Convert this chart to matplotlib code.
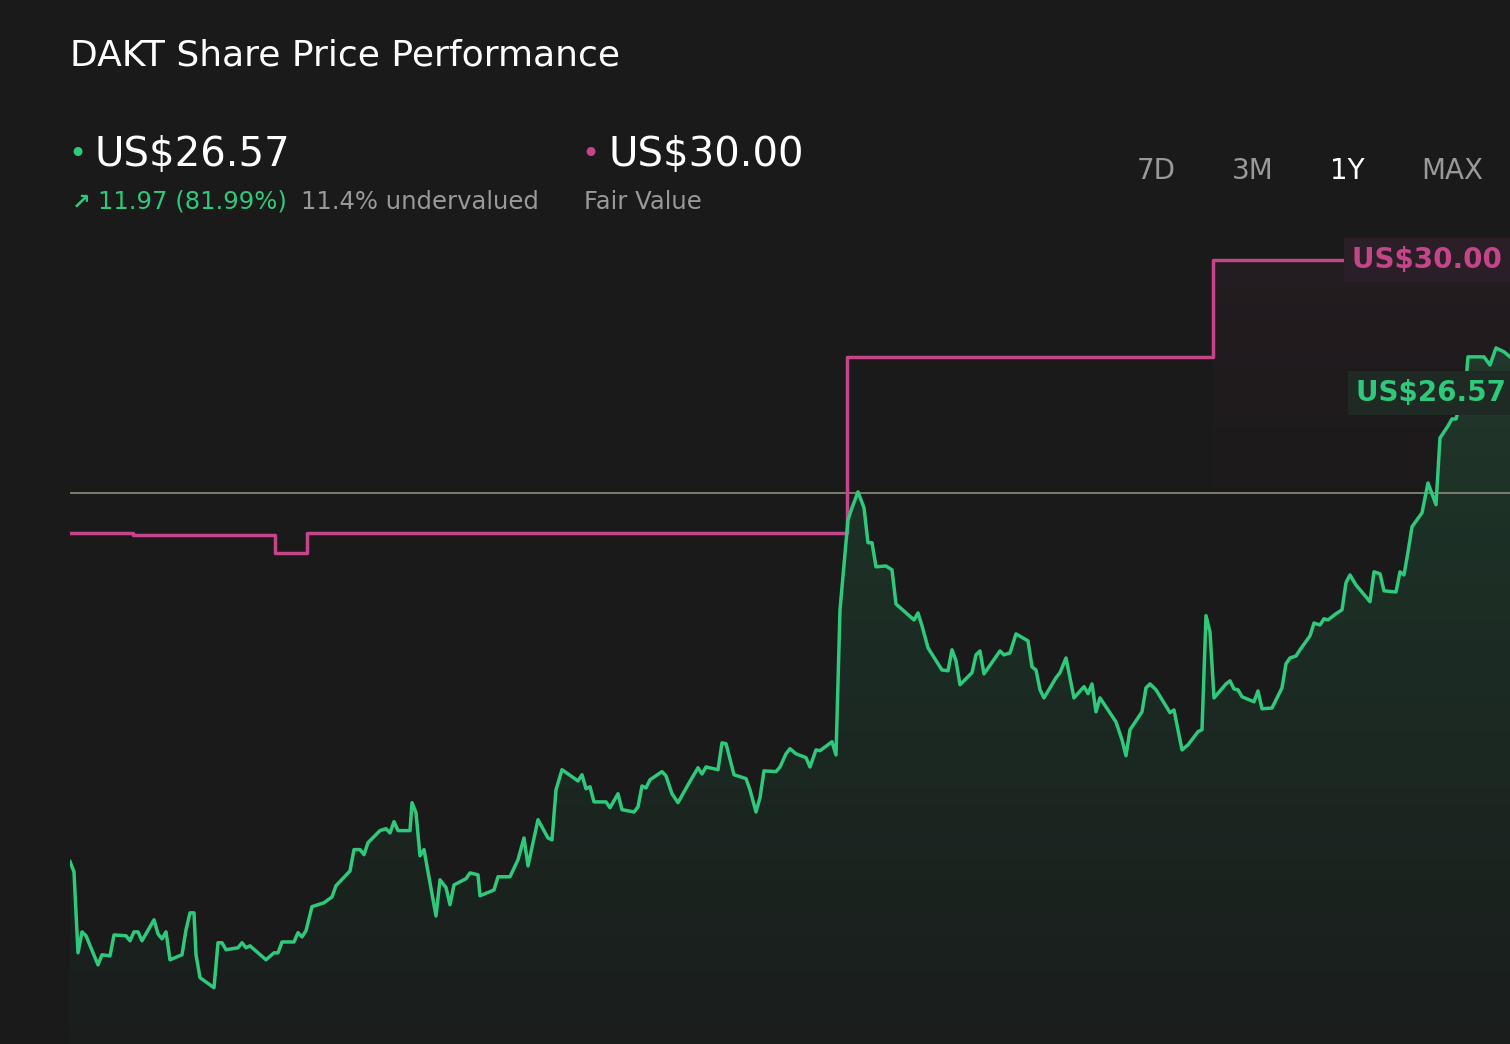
import matplotlib
matplotlib.use("Agg")
import matplotlib.pyplot as plt
import numpy as np

days = [0,1,2,3,4,7,8,10,11,14, 15,16,17,18,21,22,23,24,25,28,
        29,30,31,31.5,32.5,36,37,38,39,42, 43,44,45,49,51,52,53,56,57,58,
        59,60.5,63.5,65.5,66.5,70,71,72.5,73.5,74.5, 77.5,79,80,81,82,85,85.5,86.5,87.5,88.5,
        91.5,92.5,94,95,96,99,100,102,102.5,106, 107,110,112,113.5,114.5,117,119.5,120.5,121.5,123,
        127,128,129,130,131,134,135,137,138,141, 142,143,144,145,148,149,150.5,152,154.5,157,
        158,159,162,163,164,166,169,170,171.5,172.5, 173.5,176.5,177.5,179,180,181.5,184,185,186.5,187.5,
        190.5,191.5,192.5,194.5,195.5,197,198.5,199.5,200.5,201.5, 204,205.5,206.5,211,212,213,214.5,218,219.5,220.5,
        221.5,222.5,225.5,226.5,227.5,228.5,232.5,233.5,235,236.5, 239.5,240.5,241.5,242.5,243.5,246.5,247.5,249,251,253.5,
        254.5,255.5,256.5,257.5,261.5,263,264,265,268,269, 270,271.5,275,276,278,279.5,282,283,284,285,
        286,289,290,291,292,293,296,297,298,300.5, 303,304,305,306.5,307.5,310,311,312.5,313.5,314.5,
        316.5,318,319,320,321.5,325,326,327.5,328.5,331.5, 332.5,333.5,334.5,335.5,338,339.5,341.5,342.5,344.5,345.5,
        346.5,347.5,348.5,349.5,353.5,355,356.5,358.5,360]
price = [14.49,14.23,12.14,12.68,12.58,11.83,12.09,12.06,12.60,12.58, 12.45,12.68,12.68,12.45,12.99,12.63,12.50,12.68,11.96,12.09,
         12.73,13.17,13.17,12.09,11.50,11.24,12.40,12.40,12.22,12.27, 12.40,12.27,12.32,11.96,12.14,12.14,12.42,12.42,12.66,12.55,
         12.71,13.33,13.43,13.58,13.87,14.25,14.80,14.80,14.67,14.98, 15.29,15.34,15.23,15.52,15.29,15.29,16.01,15.75,14.64,14.80,
         13.09,14.02,13.82,13.38,13.89,14.05,14.20,14.15,13.61,13.76, 14.10,14.10,14.54,15.10,14.38,15.57,15.10,15.05,16.34,16.86,
         16.57,16.73,16.37,16.42,16.03,16.03,15.88,16.24,15.83,15.77, 15.90,16.44,16.39,16.60,16.81,16.70,16.24,16.01,16.47,16.91,
         16.75,16.93,16.86,17.55,17.53,16.73,16.63,16.34,15.77,16.14, 16.83,16.81,16.93,17.27,17.40,17.27,17.17,16.93,17.37,17.35,
         17.58,17.24,20.98,23.30,23.61,24.02,23.61,22.71,22.71,22.09, 22.11,22.01,21.13,20.72,20.90,20.57,20.00,19.43,19.41,19.95,
         19.67,19.05,19.36,19.82,19.92,19.33,19.92,19.82,19.87,20.36, 20.18,19.51,19.43,18.92,18.71,19.23,19.36,19.74,18.71,19.00,
         18.82,19.07,18.35,18.71,18.09,17.63,17.22,17.89,18.35,18.97, 19.07,18.92,18.33,18.40,17.37,17.50,17.84,17.89,20.83,20.41,
         18.71,19.07,19.15,18.94,18.92,18.74,18.61,18.89,18.43,18.45, 18.97,19.59,19.74,19.79,19.95,20.31,20.64,20.59,20.75,20.72,
         20.88,20.98,21.68,21.88,21.62,21.19,21.96,21.91,21.47,21.44, 21.96,21.88,22.47,23.12,23.48,24.25,23.69,25.41,25.72,25.90,
         25.90,26.26,26.26,27.50,27.50,27.29,27.73,27.63,27.50]

fv_days = [0, 15.75, 51.25, 59.25, 194.25, 285.75, 318.75]
fv_vals = [22.96, 22.90, 22.45, 22.96, 27.50, 30.00, 30.00]
ref_level = 24.0

BG = '#1a1a1a'
GREEN = '#2ec97a'
PINK = '#c4458a'

fig = plt.figure(figsize=(15.1, 10.44), dpi=100, facecolor=BG)
ax = fig.add_axes([70/1510, 0, 1440/1510, 814/1044])
ax.set_facecolor(BG)
ymin, ymax = 9.79, 30.77
ax.set_xlim(0, 360)
ax.set_ylim(ymin, ymax)
ax.axis('off')

img = np.zeros((256, 1, 4))
img[..., 0] = 0.18; img[..., 1] = 0.79; img[..., 2] = 0.48
img[..., 3] = np.linspace(0.02, 0.17, 256).reshape(-1, 1)
im = ax.imshow(img, extent=[0, 360, ymin, 28], origin='lower', aspect='auto', zorder=1)
poly = ax.fill_between(days, price, ymin, color='none')
im.set_clip_path(poly.get_paths()[0], transform=ax.transData)

pimg = np.zeros((256, 1, 4))
pimg[..., 0] = 0.77; pimg[..., 1] = 0.27; pimg[..., 2] = 0.54
pimg[..., 3] = np.linspace(0.0, 0.06, 256).reshape(-1, 1)
ax.imshow(pimg, extent=[285.75, 360, 22, 30], origin='lower', aspect='auto', zorder=0.5)
ax.set_xlim(0, 360); ax.set_ylim(ymin, ymax)

ax.axhline(ref_level, color='#7d7d6c', lw=1.4, zorder=2)
ax.step(fv_days, fv_vals, where='post', color=PINK, lw=2.5, zorder=3)
ax.plot(days, price, color=GREEN, lw=2.5, zorder=4)

ax.text(320.5, 30.0, 'US$30.00 ', color=PINK, fontsize=20, fontweight='bold',
        ha='left', va='center', zorder=5, clip_on=False,
        bbox=dict(boxstyle='square,pad=0.3', fc='#2a1f26', ec='none'))
ax.text(321.5, 26.57, 'US$26.57 ', color=GREEN, fontsize=20, fontweight='bold',
        ha='left', va='center', zorder=5, clip_on=False,
        bbox=dict(boxstyle='square,pad=0.3', fc='#1f2a24', ec='none'))

def px(x, y):
    return x/1510, 1 - y/1044

fig.text(*px(70, 56), 'DAKT Share Price Performance', color='white', fontsize=26, va='center')
fig.text(*px(68, 155), '•', color=GREEN, fontsize=22, va='center')
fig.text(*px(94, 155), 'US$26.57', color='white', fontsize=29, va='center')
fig.text(*px(72, 202), '↗', color=GREEN, fontsize=16, va='center', fontweight='bold')
fig.text(*px(98, 202), '11.97 (81.99%)', color=GREEN, fontsize=17.5, va='center')
fig.text(*px(301, 202), '11.4% undervalued', color='#999999', fontsize=17.5, va='center')
fig.text(*px(581, 155), '•', color=PINK, fontsize=22, va='center')
fig.text(*px(608, 155), 'US$30.00', color='white', fontsize=29, va='center')
fig.text(*px(584, 202), 'Fair Value', color='#999999', fontsize=17.5, va='center')
for lbl, x, c in [('7D', 1137, '#999999'), ('3M', 1232, '#999999'),
                  ('1Y', 1330, 'white'), ('MAX', 1421, '#999999')]:
    fig.text(*px(x, 171), lbl, color=c, fontsize=20, va='center')

fig.savefig('out.png', dpi=100, facecolor=BG)
